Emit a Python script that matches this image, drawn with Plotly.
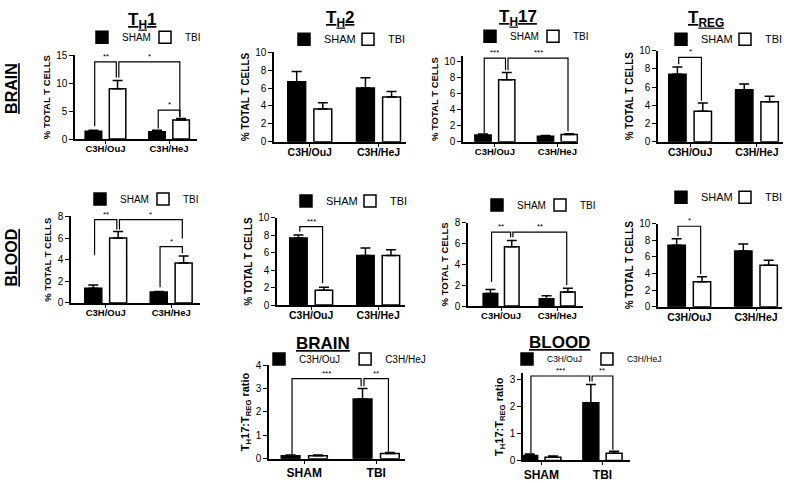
import plotly.graph_objects as go

FONT = "Liberation Sans, Arial, sans-serif"
W, H = 800, 483

strains = ["C3H/OuJ", "C3H/HeJ"]
injury = ["SHAM", "TBI"]

# % of total T cells, mean and SEM
brain_th1_sham = [1.4, 1.3]
brain_th1_sham_sem = [0.2, 0.3]
brain_th1_tbi = [9.0, 3.4]
brain_th1_tbi_sem = [1.5, 0.3]

brain_th2_sham = [6.7, 6.0]
brain_th2_sham_sem = [1.15, 1.15]
brain_th2_tbi = [3.65, 5.0]
brain_th2_tbi_sem = [0.7, 0.6]

brain_th17_sham = [0.85, 0.7]
brain_th17_sham_sem = [0.12, 0.1]
brain_th17_tbi = [7.7, 0.9]
brain_th17_tbi_sem = [0.9, 0.1]

brain_treg_sham = [7.4, 5.7]
brain_treg_sham_sem = [0.8, 0.65]
brain_treg_tbi = [3.35, 4.4]
brain_treg_tbi_sem = [0.9, 0.6]

blood_th1_sham = [1.35, 1.0]
blood_th1_sham_sem = [0.3, 0.05]
blood_th1_tbi = [6.0, 3.7]
blood_th1_tbi_sem = [0.6, 0.65]

blood_th2_sham = [7.7, 5.7]
blood_th2_sham_sem = [0.35, 0.85]
blood_th2_tbi = [1.7, 5.7]
blood_th2_tbi_sem = [0.35, 0.65]

blood_th17_sham = [1.2, 0.7]
blood_th17_sham_sem = [0.4, 0.3]
blood_th17_tbi = [5.7, 1.35]
blood_th17_tbi_sem = [0.6, 0.35]

blood_treg_sham = [7.4, 6.7]
blood_treg_sham_sem = [0.8, 0.85]
blood_treg_tbi = [3.0, 5.0]
blood_treg_tbi_sem = [0.6, 0.6]

# TH17:TREG ratio, x = SHAM / TBI
brain_ratio_ouj = [0.13, 2.55]
brain_ratio_ouj_sem = [0.03, 0.45]
brain_ratio_hej = [0.13, 0.23]
brain_ratio_hej_sem = [0.03, 0.04]

blood_ratio_ouj = [0.18, 2.15]
blood_ratio_ouj_sem = [0.06, 0.67]
blood_ratio_hej = [0.12, 0.27]
blood_ratio_hej_sem = [0.04, 0.07]

# significance brackets: (bar a, bar b, bracket height, leg a end, leg b end, label)
# bar = (category index, series index)
brain_th1_sig = [((0, 0), (0, 1), 13.8, 2.3, 11.0, "**"),
                 ((0, 1), (1, 1), 13.8, 11.0, 4.0, "*"),
                 ((1, 0), (1, 1), 5.2, 1.9, 3.9, "*")]
brain_th17_sig = [((0, 0), (0, 1), 10.4, 1.1, 8.9, "***"),
                  ((0, 1), (1, 1), 10.4, 8.9, 1.3, "***")]
brain_treg_sig = [((0, 0), (0, 1), 9.25, 8.5, 4.5, "*")]
blood_th1_sig = [((0, 0), (0, 1), 7.7, 4.4, 6.8, "**"),
                 ((0, 1), (1, 1), 7.7, 6.8, 5.95, "*"),
                 ((1, 0), (1, 1), 5.2, 1.45, 4.6, "*")]
blood_th2_sig = [((0, 0), (0, 1), 9.0, 8.4, 2.5, "***")]
blood_th17_sig = [((0, 0), (0, 1), 7.1, 2.3, 6.6, "**"),
                  ((0, 1), (1, 1), 7.1, 6.6, 2.0, "**")]
blood_treg_sig = [((0, 0), (0, 1), 9.7, 8.5, 3.9, "*")]
brain_ratio_sig = [((0, 0), (1, 0), 3.42, 0.2, 3.1, "***"),
                   ((1, 0), (1, 1), 3.42, 3.1, 0.3, "**")]
blood_ratio_sig = [((0, 0), (1, 0), 3.14, 0.28, 2.94, "***"),
                   ((1, 0), (1, 1), 3.14, 2.94, 0.4, "**")]

pct_title = "<b>% TOTAL T CELLS</b>"
ratio_title = "<b>T<sub>H</sub>17:T<sub>REG</sub> ratio</b>"

# panel geometry in pixels: x left/right of axis, y of zero and top tick
panels = [
    dict(cats=strains, names=injury, vals=[brain_th1_sham, brain_th1_tbi], sem=[brain_th1_sham_sem, brain_th1_tbi_sem],
         sig=brain_th1_sig, xpx=(75, 197), ypx=(136.5, 50.5), top=15, dtick=5, ymax=15, xr=(-0.48, 1.44),
         leg=(95, 32), lfs=10, tfs=9.5, yfs=9.5),
    dict(cats=strains, names=injury, vals=[brain_th2_sham, brain_th2_tbi], sem=[brain_th2_sham_sem, brain_th2_tbi_sem],
         sig=[], xpx=(274, 406), ypx=(139.3, 47.3), top=10, dtick=2, ymax=10, xr=(-0.52, 1.4),
         leg=(297, 34), lfs=11, tfs=10.5, yfs=10),
    dict(cats=strains, names=injury, vals=[brain_th17_sham, brain_th17_tbi], sem=[brain_th17_sham_sem, brain_th17_tbi_sem],
         sig=brain_th17_sig, xpx=(463, 578), ypx=(139.3, 56.7), top=10, dtick=2, ymax=10.6, xr=(-0.51, 1.33),
         leg=(483, 31), lfs=10, tfs=9.5, yfs=9.5),
    dict(cats=strains, names=injury, vals=[brain_treg_sham, brain_treg_tbi], sem=[brain_treg_sham_sem, brain_treg_tbi_sem],
         sig=brain_treg_sig, xpx=(658, 783), ypx=(139.3, 45.7), top=10, dtick=2, ymax=10, xr=(-0.48, 1.39),
         leg=(674, 34), lfs=11, tfs=10.5, yfs=10),
    dict(cats=strains, names=injury, vals=[blood_th1_sham, blood_th1_tbi], sem=[blood_th1_sham_sem, blood_th1_tbi_sem],
         sig=blood_th1_sig, xpx=(71, 200), ypx=(304.5, 215.8), top=8, dtick=2, ymax=8, xr=(-0.53, 1.44),
         leg=(93, 198), lfs=10, tfs=9.5, yfs=9.5),
    dict(cats=strains, names=injury, vals=[blood_th2_sham, blood_th2_tbi], sem=[blood_th2_sham_sem, blood_th2_tbi_sem],
         sig=blood_th2_sig, xpx=(277, 405), ypx=(306.7, 217.3), top=10, dtick=2, ymax=10, xr=(-0.51, 1.4),
         leg=(299, 200), lfs=11, tfs=10.5, yfs=10),
    dict(cats=strains, names=injury, vals=[blood_th17_sham, blood_th17_tbi], sem=[blood_th17_sham_sem, blood_th17_tbi_sem],
         sig=blood_th17_sig, xpx=(468, 583), ypx=(307.7, 222.3), top=8, dtick=2, ymax=8, xr=(-0.59, 1.46),
         leg=(490, 204), lfs=10, tfs=9.5, yfs=9.5),
    dict(cats=strains, names=injury, vals=[blood_treg_sham, blood_treg_tbi], sem=[blood_treg_sham_sem, blood_treg_tbi_sem],
         sig=blood_treg_sig, xpx=(658, 782), ypx=(308.3, 223.3), top=10, dtick=2, ymax=10, xr=(-0.47, 1.39),
         leg=(674, 196), lfs=11, tfs=10.5, yfs=10),
    dict(cats=injury, names=strains, vals=[brain_ratio_ouj, brain_ratio_hej], sem=[brain_ratio_ouj_sem, brain_ratio_hej_sem],
         sig=brain_ratio_sig, xpx=(269, 405), ypx=(464.3, 368.3), top=4, dtick=1, ymax=4, xr=(-0.49, 1.4),
         leg=(272, 362), lfs=10, tfs=12, yfs=11),
    dict(cats=injury, names=strains, vals=[blood_ratio_ouj, blood_ratio_hej], sem=[blood_ratio_ouj_sem, blood_ratio_hej_sem],
         sig=blood_ratio_sig, xpx=(523, 630), ypx=(466, 383.3), top=3, dtick=1, ymax=3.25, xr=(-0.3, 1.45),
         leg=(520, 362), lfs=8.5, tfs=12, yfs=11),
]
for p in panels[:8]:
    p["ytitle"] = pct_title
    p["entry"] = int(p["lfs"] * 1.8)
    p["lstand"] = -3
for p in panels[8:]:
    p["ytitle"] = ratio_title
    p["entry"] = None
    p["lstand"] = -1

OFF = 0.19     # half distance between the two bars of a group
BW = 0.26      # bar width
NUDGE = 0.02
fills = ["black", "white"]

fig = go.Figure()
annotations = []
layout = {}

for k, p in enumerate(panels):
    sfx = "" if k == 0 else str(k + 1)
    xa, ya, lg = "x" + sfx, "y" + sfx, "legend" + sfx
    offs = [-OFF, OFF]

    def bx(bar):
        return bar[0] + offs[bar[1]]

    for s in range(2):
        fig.add_trace(go.Bar(
            x=[i + offs[s] for i in range(len(p["cats"]))], y=p["vals"][s], width=BW,
            name=p["names"][s], xaxis=xa, yaxis=ya, legend=lg,
            marker=dict(color=fills[s], line=dict(color="black", width=1.5)),
            error_y=dict(type="data", array=p["sem"][s], arrayminus=[0] * len(p["sem"][s]),
                         symmetric=False, color="black", thickness=1.5, width=5),
        ))

    for a, b, yb, la, lb, lab in p["sig"]:
        xl, xr = bx(a) + NUDGE, bx(b) - NUDGE
        fig.add_trace(go.Scatter(x=[xl, xl, xr, xr], y=[la, yb, yb, lb], mode="lines",
                                 line=dict(color="black", width=1.2), xaxis=xa, yaxis=ya,
                                 showlegend=False, hoverinfo="skip"))
        annotations.append(dict(x=(xl + xr) / 2, y=yb, xref=xa, yref=ya, text=lab, showarrow=False,
                                yanchor="bottom", yshift=-1, font=dict(size=8, color="black")))

    x0, x1 = p["xpx"]
    yz, yt = p["ypx"]
    ppu = (yz - yt) / p["top"]
    ytop = yz - p["ymax"] * ppu
    layout["xaxis" + sfx] = dict(
        domain=[x0 / W, x1 / W], anchor=ya, range=list(p["xr"]),
        tickvals=list(range(len(p["cats"]))), ticktext=["<b>%s</b>" % c for c in p["cats"]],
        ticks="outside", ticklen=3, tickwidth=1.3, tickcolor="black", ticklabelstandoff=p["lstand"],
        showline=True, linecolor="black", linewidth=1.5, showgrid=False, zeroline=False,
        tickfont=dict(size=p["tfs"], color="black"), fixedrange=True)
    layout["yaxis" + sfx] = dict(
        domain=[1 - yz / H, 1 - ytop / H], anchor=xa, range=[0, p["ymax"]],
        tickvals=list(range(0, p["top"] + 1, p["dtick"])),
        ticks="outside", ticklen=4, tickwidth=1.3, tickcolor="black",
        showline=True, linecolor="black", linewidth=1.5, showgrid=False, zeroline=False,
        tickfont=dict(size=10, color="black"), fixedrange=True,
        title=dict(text=p["ytitle"], font=dict(size=p["yfs"], color="black"), standoff=4))
    lx, ly = p["leg"]
    leg = dict(x=(lx - 13) / W, y=1 - ly / H, xanchor="left", yanchor="middle",
               orientation="h", bgcolor="rgba(0,0,0,0)", itemwidth=30, traceorder="normal",
               font=dict(size=p["lfs"], color="black"), itemclick=False, itemdoubleclick=False)
    if p["entry"]:
        leg["entrywidth"] = p["entry"]
    layout[lg] = leg

# panel titles
titles = [("<b><u>T<sub>H</sub>1</u></b>", 142, 15), ("<b><u>T<sub>H</sub>2</u></b>", 340, 13),
          ("<b><u>T<sub>H</sub>17</u></b>", 518, 12), ("<b><u>T<sub>REG</sub></u></b>", 706, 13),
          ("<b><u>BRAIN</u></b>", 323, 346), ("<b><u>BLOOD</u></b>", 559, 345)]
for t, x, y in titles:
    annotations.append(dict(text=t, x=x / W, y=1 - y / H, xref="paper", yref="paper", showarrow=False,
                            xanchor="center", yanchor="middle", font=dict(size=17, color="black")))
for t, y in [("<b><u>BRAIN</u></b>", 85), ("<b><u>BLOOD</u></b>", 258)]:
    annotations.append(dict(text=t, x=12 / W, y=1 - y / H, xref="paper", yref="paper", showarrow=False,
                            textangle=-90, xanchor="center", yanchor="middle", font=dict(size=16, color="black")))

fig.update_layout(
    width=W, height=H, margin=dict(l=0, r=0, t=0, b=0),
    paper_bgcolor="white", plot_bgcolor="white", barmode="overlay",
    font=dict(family=FONT, color="black"), annotations=annotations, **layout)

# page body has a default 8px margin; drop it so the figure sits at the window origin
fig.write_html("out.html", config={"displayModeBar": False},
               post_script="document.body.style.margin='0';")
